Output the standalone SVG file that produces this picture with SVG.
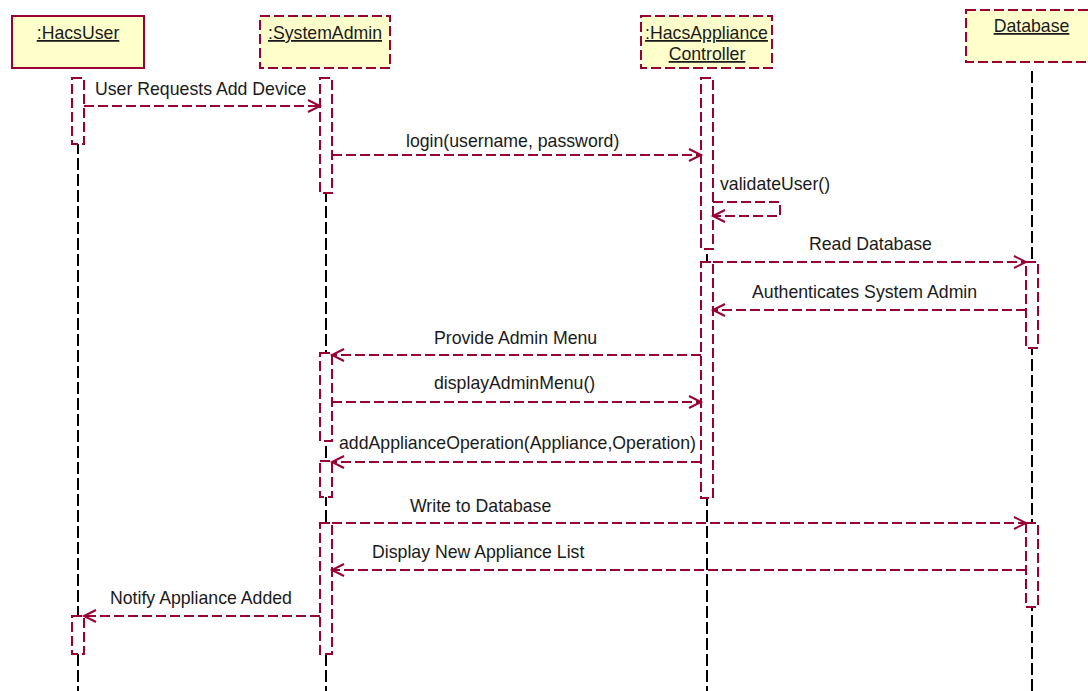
<svg xmlns="http://www.w3.org/2000/svg" width="1088" height="691" viewBox="0 0 1088 691">
<style>
.box{fill:#ffffcc;stroke:#990033;stroke-width:2}
.dash{stroke-dasharray:10 4}
.t{font-family:"Liberation Sans",Arial,sans-serif;font-size:17.7px;fill:#1a1a1a}
.hd{text-anchor:middle;text-decoration:underline}
.life{stroke:#000;stroke-width:2;stroke-dasharray:12 4;fill:none}
.act{fill:#fff;stroke:#990033;stroke-width:2;stroke-dasharray:10 4}
.msg{stroke:#990033;stroke-width:2;stroke-dasharray:10 4;fill:none}
.ah{stroke:#990033;stroke-width:2;fill:none}
</style>
<rect width="1088" height="691" fill="#fff"/>
<g id="lifelines">
<line class="life" x1="78" y1="78" x2="78" y2="691"/>
<line class="life" x1="326" y1="78" x2="326" y2="691"/>
<line class="life" x1="707" y1="78" x2="707" y2="691"/>
<line class="life" x1="1032" y1="71" x2="1032" y2="691"/>
</g>
<g id="HacsUser">
<rect class="box" x="12" y="16" width="132" height="52"/>
<text class="t hd" x="78" y="39">:HacsUser</text>
<rect class="act" x="72" y="78" width="12" height="66"/>
<rect class="act" x="72" y="616" width="12" height="38"/>
</g>
<g id="SystemAdmin">
<rect class="box dash" x="260" y="16" width="130" height="52"/>
<text class="t hd" x="325" y="39">:SystemAdmin</text>
<rect class="act" x="320" y="78" width="12" height="115"/>
<rect class="act" x="320" y="353" width="12" height="88"/>
<rect class="act" x="320" y="461" width="12" height="36"/>
<rect class="act" x="320" y="523" width="12" height="131"/>
</g>
<g id="HacsApplianceController">
<rect class="box dash" x="641" y="16" width="131" height="52"/>
<text class="t hd" x="706.5" y="39">:HacsAppliance</text>
<text class="t hd" x="707" y="60">Controller</text>
<rect class="act" x="701" y="78" width="12" height="171"/>
<rect class="act" x="701" y="262" width="12" height="236"/>
</g>
<g id="Database">
<rect class="box dash" x="966" y="10" width="132" height="52"/>
<text class="t hd" x="1031.5" y="32">Database</text>
<rect class="act" x="1026" y="262" width="12" height="86"/>
<rect class="act" x="1026" y="523" width="12" height="84"/>
</g>
<g id="connectors">
<line class="msg" x1="84" y1="106" x2="320" y2="106"/>
<polyline class="ah" points="308,100 320,106 308,112"/>
<line class="msg" x1="332" y1="155" x2="701" y2="155"/>
<polyline class="ah" points="689,149 701,155 689,161"/>
<polyline class="msg" points="713,202 780,202 780,216 713,216"/>
<polyline class="ah" points="725,210 713,216 725,222"/>
<line class="msg" x1="713" y1="262" x2="1026" y2="262"/>
<polyline class="ah" points="1014,256 1026,262 1014,268"/>
<line class="msg" x1="1026" y1="310" x2="713" y2="310"/>
<polyline class="ah" points="725,304 713,310 725,316"/>
<line class="msg" x1="701" y1="355" x2="332" y2="355"/>
<polyline class="ah" points="344,349 332,355 344,361"/>
<line class="msg" x1="332" y1="402" x2="701" y2="402"/>
<polyline class="ah" points="689,396 701,402 689,408"/>
<line class="msg" x1="701" y1="462" x2="332" y2="462"/>
<polyline class="ah" points="344,456 332,462 344,468"/>
<line class="msg" x1="332" y1="523" x2="1026" y2="523"/>
<polyline class="ah" points="1014,517 1026,523 1014,529"/>
<line class="msg" x1="1026" y1="570" x2="332" y2="570"/>
<polyline class="ah" points="344,564 332,570 344,576"/>
<line class="msg" x1="320" y1="616" x2="84" y2="616"/>
<polyline class="ah" points="96,610 84,616 96,622"/>
</g>
<g id="labels">
<text class="t" x="95" y="95">User Requests Add Device</text>
<text class="t" x="406" y="147">login(username, password)</text>
<text class="t" x="720" y="190">validateUser()</text>
<text class="t" x="809" y="250">Read Database</text>
<text class="t" x="752" y="298">Authenticates System Admin</text>
<text class="t" x="434" y="344">Provide Admin Menu</text>
<text class="t" x="434" y="389">displayAdminMenu()</text>
<text class="t" x="339" y="449">addApplianceOperation(Appliance,Operation)</text>
<text class="t" x="410" y="512">Write to Database</text>
<text class="t" x="372" y="558">Display New Appliance List</text>
<text class="t" x="110" y="604">Notify Appliance Added</text>
</g>
</svg>
